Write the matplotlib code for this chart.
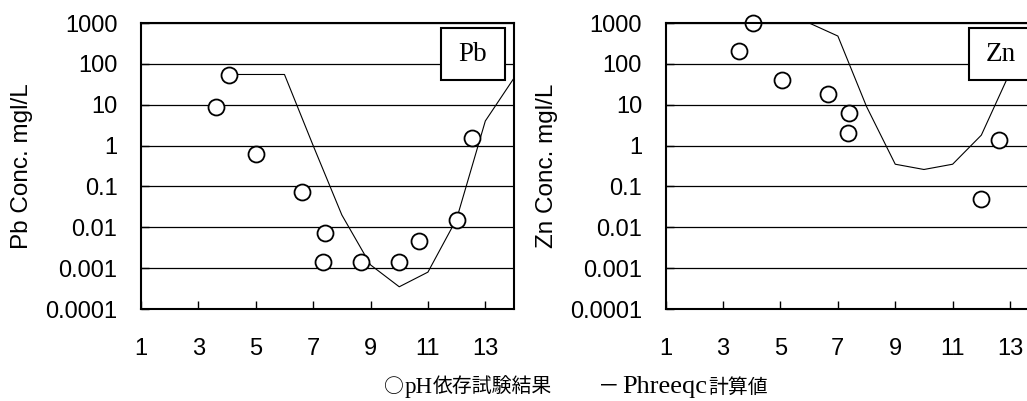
import matplotlib
matplotlib.use("Agg")
import matplotlib.pyplot as plt
from matplotlib.patches import Rectangle

plt.rcParams['font.family'] = ['Liberation Sans', 'DejaVu Sans']

# pH-dependence test results (open circles)
pb_ph = [3.6, 4.05, 5.0, 6.6, 7.4, 7.35, 8.65, 10.0, 10.7, 12.0, 12.55]
pb_obs = [8.7, 54, 0.63, 0.075, 0.0072, 0.0014, 0.0014, 0.0014, 0.0045, 0.015, 1.5]
zn_ph = [3.55, 4.05, 5.05, 6.65, 7.4, 7.35, 12.0, 12.6]
zn_obs = [210, 1000, 40, 18, 6.2, 2.0, 0.05, 1.35]

# Phreeqc calculation (line)
calc_ph = [4, 5, 6, 7, 8, 9, 10, 11, 12, 13, 14]
pb_calc = [55, 55, 55, 1.0, 0.02, 0.0012, 0.00035, 0.0008, 0.016, 4.0, 45]
zn_calc = [1000, 1000, 1000, 480, 9, 0.35, 0.26, 0.35, 1.8, 62, 1000]

ytick_vals = [1e-4, 1e-3, 1e-2, 0.1, 1, 10, 100, 1000]
ytick_labels = ["0.0001", "0.001", "0.01", "0.1", "1", "10", "100", "1000"]
xtick_labels = [1, 3, 5, 7, 9, 11, 13]

panels = [
    ("Pb", pb_ph, pb_obs, pb_calc, 0.1373, 0.804),
    ("Zn", zn_ph, zn_obs, zn_calc, 0.6482, 0.813),
]

fig = plt.figure(figsize=(10.27, 4.01), dpi=100)

for name, ph, obs, calc, left, box_x in panels:
    ax = fig.add_axes([left, 0.2294, 0.3632, 0.7132])
    ax.set_yscale("log")
    ax.set_xlim(1, 14)
    ax.set_ylim(1e-4, 1000)

    for v in ytick_vals:
        ax.axhline(v, color="black", lw=0.9, zorder=1)

    ax.plot(calc_ph, calc, color="black", lw=0.8, zorder=2)
    ax.plot(ph, obs, linestyle="none", marker="o", ms=11.5, mfc="white",
            mec="black", mew=1.3, zorder=4, clip_on=False)

    ax.set_yticks(ytick_vals)
    ax.set_yticklabels(ytick_labels)
    ax.minorticks_off()
    ax.set_xticks(xtick_labels)
    ax.set_xticklabels([str(x) for x in xtick_labels])
    ax.tick_params(axis="y", direction="in", length=6, width=1, pad=17,
                   labelsize=17)
    ax.tick_params(axis="x", direction="in", length=6, width=1, pad=21,
                   labelsize=17)
    for sp in ax.spines.values():
        sp.set_linewidth(1.5)
        sp.set_zorder(5)

    ax.set_ylabel(name + " Conc. mgl/L", fontsize=17.5)
    ax.yaxis.set_label_coords(-0.29, 0.5)

    ax.add_patch(Rectangle((box_x, 0.8007), 0.1724, 0.1808,
                           transform=ax.transAxes, facecolor="white",
                           edgecolor="black", lw=1.5, zorder=6, clip_on=False))
    ax.text(box_x + 0.0862, 0.891, name, transform=ax.transAxes,
            ha="center", va="center", fontsize=19.5,
            family=["Liberation Serif"], zorder=7)

# legend line under the charts: gothic for Japanese, serif for Latin
cjk = ["Noto Sans CJK JP"]
serif = ["Liberation Serif"]
pieces = [
    ("○", cjk, 14.3, 384),
    ("pH", serif, 16.5, 405),
    ("依存試験結果", cjk, 14.3, 433),
    ("－", cjk, 15.5, 598),
    ("Phreeqc", serif, 19, 622),
    ("計算値", cjk, 14.3, 708),
]
base_y = 1 - 393 / 401
for s, fam, size, xpix in pieces:
    fig.text(xpix / 1027, base_y, s, ha="left", va="baseline",
             fontsize=size, family=fam)

fig.savefig("out.png", dpi=100)
